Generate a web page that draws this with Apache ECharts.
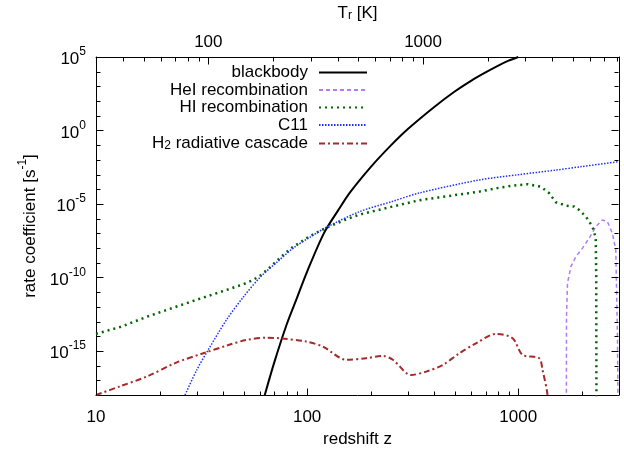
<!DOCTYPE html>
<html><head><meta charset="utf-8">
<script src="https://cdn.jsdelivr.net/npm/echarts@6/dist/echarts.min.js"></script>
<style>html,body{margin:0;padding:0;background:#fff}#wrap{position:relative;width:624px;height:456px}#c,#t{position:absolute;left:0;top:0;width:624px;height:456px}#t{pointer-events:none}</style>
</head><body><div id="wrap"><div id="c"></div><div id="t"></div></div>
<script>
// ---- data ----
const seriesNames = ['blackbody', 'HeI recombination', 'HI recombination', 'C11', 'H2 radiative cascade'];

const bbZ = [63, 70, 80, 90, 100, 120, 140, 160, 200, 250, 300, 400, 500, 600, 700, 800, 900, 1000];
const bbV = [1e-18, 1.8e-16, 6.3e-14, 5.0e-12, 2.5e-10, 1.0e-7, 3.5e-6, 6.3e-5, 3.2e-3, 0.1, 1.26, 40, 450, 2500, 8900, 2.5e4, 5.6e4, 1e5];

const heZ = [1688, 1692, 1711, 1775, 1874, 2014, 2167, 2331, 2503, 2644, 2792, 2897, 2917, 2950, 2990];
const heV = [1e-25, 2.1e-13, 4.1e-11, 5.4e-10, 2.6e-9, 9.8e-9, 4.7e-8, 2.9e-7, 8.1e-7, 6.3e-7, 1.0e-7, 7.4e-9, 4.1e-11, 1e-14, 1e-25];

const hiZ = [10, 13, 17.4, 23, 32.7, 41.5, 50, 55, 59.6, 65, 71.5, 78, 85.7, 94, 102.8, 123, 150, 177, 250, 340, 655, 785, 940, 1107, 1279, 1402, 1507, 1681, 1841, 1942, 2089, 2246, 2328, 2340, 2350];
const hiV = [1.45e-14, 4.2e-14, 2.1e-13, 8.3e-13, 4.6e-12, 1.4e-11, 3.5e-11, 6.3e-11, 1.26e-10, 3.5e-10, 1.26e-9, 4.0e-9, 1.2e-8, 2.8e-8, 6.3e-8, 2.4e-7, 7.9e-7, 1.9e-6, 6.3e-6, 1.8e-5, 6.9e-5, 1.17e-4, 1.78e-4, 2.2e-4, 1.5e-4, 5.4e-5, 1.3e-5, 7.8e-6, 6.6e-6, 3.9e-6, 1.4e-6, 2.9e-7, 4.7e-8, 1e-10, 1e-25];

const c11Z = [26.4, 30, 34, 41.5, 50, 60, 72, 86, 103, 123, 177, 250, 340, 655, 1000, 1500, 2000, 3000];
const c11V = [1e-18, 5e-17, 1.17e-15, 1.3e-13, 4.9e-12, 1.05e-10, 1.1e-9, 1.0e-8, 5.4e-8, 2.5e-7, 3.0e-6, 1.4e-5, 5.6e-5, 4.3e-4, 9.8e-4, 2.0e-3, 3.5e-3, 7.6e-3];

const h2Z = [10, 13, 17.4, 24, 32.2, 42, 51.6, 64.1, 74.1, 99.1, 118.8, 153.2, 190.6, 228.2, 254.5, 310.9, 366.1, 438.5, 526, 631, 785, 940, 1048, 1256, 1303, 1376, 1400];
const h2V = [1e-18, 3.9e-18, 1.8e-17, 1.6e-16, 6.9e-16, 2.4e-15, 5.6e-15, 7.9e-15, 7.2e-15, 4.3e-15, 1.95e-15, 2.5e-16, 3.2e-16, 4.6e-16, 2.5e-16, 2.3e-17, 3.9e-17, 1.1e-16, 6.9e-16, 3.3e-15, 1.45e-14, 7.2e-15, 5.4e-16, 3.2e-16, 5.1e-17, 1e-18, 1e-20];

// axis ticks
const xMajor = [10, 100, 1000];
const xMinor = [20, 30, 40, 50, 60, 70, 80, 90, 200, 300, 400, 500, 600, 700, 800, 900, 2000];
const tMajor = [100, 1000];
const tMinor = [40, 50, 60, 70, 80, 90, 200, 300, 400, 500, 600, 700, 800, 900, 2000, 3000, 4000, 5000, 6000, 7000, 8000];
const yMajor = [1e5, 1, 1e-5, 1e-10, 1e-15];
const yMinor = [1e4, 1e3, 1e2, 1e1, 1e-1, 1e-2, 1e-3, 1e-4, 1e-6, 1e-7, 1e-8, 1e-9, 1e-11, 1e-12, 1e-13, 1e-14, 1e-16, 1e-17];
const zRange = [10, 3000];
const tRange = [2.725 * 11, 2.725 * 3001];
const yRange = [1e-18, 1e5];

// ---- chart ----
const FONT = 'Liberation Sans';
const MAJ = 7, MIN = 4;
const GRID = { left: 96, right: 5, top: 57, bottom: 61, containLabel: false, outerBoundsMode: 'none' };
const legendRowTop = [64, 81.5, 99, 116.5, 134];
const pairs = (xs, ys) => xs.map((x, i) => [x, ys[i]]);
const supRich = {
  b: { fontSize: 17, lineHeight: 22, verticalAlign: 'bottom', fontFamily: FONT, color: '#000' },
  s: { fontSize: 12, lineHeight: 10, verticalAlign: 'top', fontFamily: FONT, color: '#000' },
  r: { fontSize: 12, lineHeight: 12, verticalAlign: 'bottom', fontFamily: FONT, color: '#000' }
};
function expOf(v) { return Math.round(Math.log10(v)); }

function axisBase(pos, range, extra) {
  return Object.assign({
    type: 'log', logBase: 10, position: pos, min: range[0], max: range[1],
    splitLine: { show: false },
    axisLine: { show: true, onZero: false, lineStyle: { color: '#000', width: 1 } },
    axisTick: { show: false },
    axisLabel: { show: false }
  }, extra || {});
}
const numLabel = (vals, margin) => ({ show: true, customValues: vals, formatter: v => String(Math.round(v)), fontSize: 17, fontFamily: FONT, color: '#000', margin: margin });

const legends = seriesNames.map((n, i) => ({
  data: [n], orient: 'vertical', align: 'right', right: 256, top: legendRowTop[i], padding: 0,
  itemWidth: 48, itemHeight: 14,
  itemStyle: { opacity: 0 },
  selectedMode: false,
  textStyle: { fontSize: 17, fontFamily: FONT, color: '#000', padding: [0, 6, 0, 0], rich: { r: { fontSize: 12, fontFamily: FONT, verticalAlign: 'bottom', lineHeight: 10, padding: [6, 0, 0, 0] } } },
  formatter: nm => nm === 'H2 radiative cascade' ? 'H{r|2} radiative cascade' : nm
}));

const lineBase = { type: 'line', showSymbol: false, symbol: 'none', xAxisIndex: 0, yAxisIndex: 0, clip: true, animation: false };

try {
  const chart = echarts.init(document.getElementById('c'), null, { renderer: 'canvas' });
  chart.setOption({
    animation: false,
    backgroundColor: '#fff',
    textStyle: { fontFamily: FONT },
    grid: GRID,
    legend: legends,
    xAxis: [
      axisBase('bottom', zRange, { axisLabel: numLabel(xMajor, 14), name: 'redshift z', nameLocation: 'middle', nameGap: 35, nameTextStyle: { fontSize: 17, fontFamily: FONT, color: '#000' } }),
      axisBase('top', tRange, { axisLabel: numLabel(tMajor, 6), name: '{b|T}{r|r}{b| [K]}', nameLocation: 'middle', nameGap: 35, nameTextStyle: { rich: supRich } })
    ],
    yAxis: [
      axisBase('left', yRange, {
        axisLabel: { show: true, customValues: yMajor, margin: 10, fontFamily: FONT, formatter: v => '{b|10}{s|' + expOf(v) + '}', rich: supRich },
        name: '{b|rate coefficient [s}{s|-1}{b|]}', nameLocation: 'middle', nameGap: 57, nameTextStyle: { rich: supRich }
      }),
      axisBase('right', yRange)
    ],
    series: [
      Object.assign({}, lineBase, { name: seriesNames[0], data: pairs(bbZ, bbV), smooth: 0.3, lineStyle: { color: '#000', width: 2, type: 'solid' }, itemStyle: { color: '#000' } }),
      Object.assign({}, lineBase, { name: seriesNames[1], data: pairs(heZ, heV), lineStyle: { color: '#b07cf5', width: 1.5, type: [4, 3] }, itemStyle: { color: '#b07cf5' } }),
      Object.assign({}, lineBase, { name: seriesNames[2], data: pairs(hiZ, hiV), lineStyle: { color: '#006400', width: 2.5, type: [2, 4] }, itemStyle: { color: '#006400' } }),
      Object.assign({}, lineBase, { name: seriesNames[3], data: pairs(c11Z, c11V), smooth: 0.3, lineStyle: { color: '#2030ff', width: 1.5, type: [1.5, 1.5] }, itemStyle: { color: '#2030ff' } }),
      Object.assign({}, lineBase, { name: seriesNames[4], data: pairs(h2Z, h2V), smooth: 0.3, lineStyle: { color: '#a52a2a', width: 2, type: [6, 3, 2, 3] }, itemStyle: { color: '#a52a2a' } })
    ]
  });
} catch (e) { }

// ---- tick marks: a minimal overlay chart with the same grid and axes ----
try {
  const tc = echarts.init(document.getElementById('t'), null, { renderer: 'canvas' });
  const hid = (pos, range) => ({ type: 'log', position: pos, min: range[0], max: range[1], splitLine: { show: false }, axisLine: { show: false, onZero: false }, axisTick: { show: false }, axisLabel: { show: false } });
  tc.setOption({
    animation: false,
    backgroundColor: 'transparent',
    grid: GRID,
    xAxis: [hid('bottom', zRange), hid('top', tRange)],
    yAxis: [hid('left', yRange), hid('right', yRange)],
    series: [{ type: 'line', data: [[100, 1e-30]], symbol: 'none', lineStyle: { opacity: 0 }, xAxisIndex: 0, yAxisIndex: 0, silent: true }]
  });
  const xb = v => tc.convertToPixel({ xAxisIndex: 0 }, v);
  const yl = v => tc.convertToPixel({ yAxisIndex: 0 }, v);
  const xt = v => {
    try { const r = tc.convertToPixel({ xAxisIndex: 1 }, v); if (isFinite(r)) return r; } catch (e) { }
    const l = xb(zRange[0]), r = xb(zRange[1]);
    return l + (Math.log10(v) - Math.log10(tRange[0])) / (Math.log10(tRange[1]) - Math.log10(tRange[0])) * (r - l);
  };
  const els = [];
  const addLine = (x1, y1, x2, y2) => {
    if (![x1, y1, x2, y2].every(isFinite)) return;
    els.push({ type: 'line', z: 100, shape: { x1: x1, y1: y1, x2: x2, y2: y2 }, style: { stroke: '#000', lineWidth: 1 } });
  };
  const yBot = Math.round(yl(yRange[0])) + 0.5, yTop = Math.round(yl(yRange[1])) + 0.5;
  const xLeft = Math.round(xb(zRange[0])) + 0.5, xRight = Math.round(xb(zRange[1])) - 0.5;
  xMajor.forEach(v => { const x = Math.round(xb(v)) + 0.5; addLine(x, yBot, x, yBot - MAJ); });
  xMinor.forEach(v => { const x = Math.round(xb(v)) + 0.5; addLine(x, yBot, x, yBot - MIN); });
  tMajor.forEach(v => { const x = Math.round(xt(v)) + 0.5; addLine(x, yTop, x, yTop + MAJ); });
  tMinor.forEach(v => { const x = Math.round(xt(v)) + 0.5; addLine(x, yTop, x, yTop + MIN); });
  yMajor.forEach(v => { const y = Math.round(yl(v)) + 0.5; addLine(xLeft, y, xLeft + MAJ, y); addLine(xRight, y, xRight - MAJ, y); });
  yMinor.forEach(v => { const y = Math.round(yl(v)) + 0.5; addLine(xLeft, y, xLeft + MIN, y); addLine(xRight, y, xRight - MIN, y); });
  tc.setOption({ graphic: { elements: els } });
} catch (e) { }
</script>
</body></html>
